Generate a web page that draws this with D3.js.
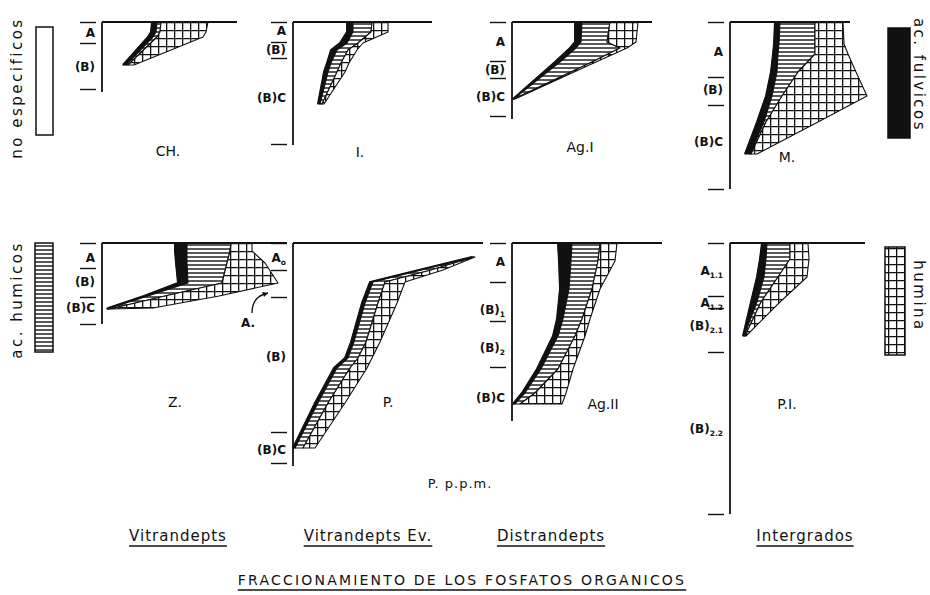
<!DOCTYPE html>
<html>
<head>
<meta charset="utf-8">
<script src="https://cdn.jsdelivr.net/npm/d3@7"></script>
<style>
  body { margin: 0; background: #fff; }
  svg { display: block; }
  text { font-family: "DejaVu Sans", sans-serif; fill: #111; }
</style>
</head>
<body>
<div id="chart"></div>
<script>
// depth (cm) and P ppm of each fraction: no especificos, fulvicos, humicos, humina
const chDepth = [0, 10, 15, 43];
const chNe = [100, 98, 92, 42];
const chFu = [10, 10, 10, 6];
const chHu = [8, 8, 8, 4];
const chHm = [94, 92, 92, 12];

const iDepth = [0, 10, 21, 28, 41, 50, 82];
const iNe = [108, 108, 94, 76, 68, 62, 50];
const iFu = [12, 12, 14, 12, 8, 8, 4];
const iHu = [38, 36, 22, 22, 20, 18, 4];
const iHm = [32, 34, 10, 18, 16, 16, 4];

const ag1Depth = [0, 20, 26, 40, 77];
const ag1Ne = [126, 126, 116, 86, 2];
const ag1Fu = [14, 12, 12, 10, 1];
const ag1Hu = [56, 52, 88, 64, 1];
const ag1Hm = [56, 58, 14, 8, 2];

const mDepth = [0, 22, 32, 50, 74, 100, 132];
const mNe = [90, 88, 86, 82, 72, 54, 30];
const mFu = [10, 10, 10, 12, 12, 14, 10];
const mHu = [70, 72, 74, 42, 20, 4, 2];
const mHm = [56, 58, 66, 116, 170, 104, 12];

const zDepth = [0, 8, 20, 40, 53, 65, 66];
const zNe = [146, 146, 148, 152, 84, 12, 10];
const zFu = [24, 24, 22, 20, 8, 4, 2];
const zHu = [88, 86, 80, 68, 34, 8, 2];
const zHm = [42, 44, 76, 112, 108, 78, 2];

const pDepth = [14, 27, 39, 60, 99, 115, 125, 160, 205];
const pNe = [358, 252, 154, 138, 116, 104, 82, 44, 0];
const pFu = [2, 4, 6, 6, 6, 6, 6, 6, 4];
const pHu = [2, 20, 24, 26, 24, 20, 26, 20, 16];
const pHm = [2, 24, 40, 38, 28, 28, 34, 34, 24];

const ag2Depth = [0, 18, 46, 76, 93, 126, 150, 161];
const ag2Ne = [92, 94, 96, 90, 82, 50, 20, 2];
const ag2Fu = [28, 24, 18, 12, 10, 8, 6, 4];
const ag2Hu = [56, 54, 46, 38, 34, 34, 20, 10];
const ag2Hm = [34, 34, 16, 16, 20, 30, 62, 84];

const piDepth = [0, 16, 34, 59, 93];
const piNe = [64, 60, 54, 42, 26];
const piFu = [10, 12, 14, 12, 2];
const piHu = [46, 48, 28, 8, 2];
const piHm = [36, 38, 58, 38, 2];

// horizon limits (cm) and horizon names with their mid depth
const profileNames = ["CH.", "I.", "Ag.I", "M.", "Z.", "P.", "Ag.II", "P.I."];
const profileDepth = [70, 123, 97, 167, 81, 223, 178, 271];
const profileMaxP = [270, 278, 280, 240, 370, 380, 300, 270];
const horizonLimits = [
    [0, 21, 67], [0, 20, 36, 122], [0, 39, 56, 94], [0, 55, 83, 167],
    [0, 25, 54, 81], [0, 27, 54, 189, 220], [0, 39, 78, 124], [0, 53, 65, 109, 271]
];
const horizonNames = [
    [["A", 11], ["(B)", 45]],
    [["A", 9], ["(B)", 28], ["(B)C", 76]],
    [["A", 20], ["(B)", 48], ["(B)C", 75]],
    [["A", 30], ["(B)", 68], ["(B)C", 120]],
    [["A", 15], ["(B)", 39], ["(B)C", 65]],
    [["A_o", 15], ["(B)", 114], ["(B)C", 207]],
    [["A", 19], ["(B)_1", 67], ["(B)_2", 105], ["(B)C", 155]],
    [["A_1.1", 28], ["A_1.2", 60], ["(B)_2.1", 83], ["(B)_2.2", 186]]
];
const groups = ["Vitrandepts", "Vitrandepts Ev.", "Distrandepts", "Intergrados"];
const fractions = ["ne", "fu", "hu", "hm"];

const profiles = [
    [chDepth, chNe, chFu, chHu, chHm], [iDepth, iNe, iFu, iHu, iHm],
    [ag1Depth, ag1Ne, ag1Fu, ag1Hu, ag1Hm], [mDepth, mNe, mFu, mHu, mHm],
    [zDepth, zNe, zFu, zHu, zHm], [pDepth, pNe, pFu, pHu, pHm],
    [ag2Depth, ag2Ne, ag2Fu, ag2Hu, ag2Hm], [piDepth, piNe, piFu, piHu, piHm]
].map(([dep, ne, fu, hu, hm]) => dep.map((d, i) => ({depth: d, ne: ne[i], fu: fu[i], hu: hu[i], hm: hm[i]})));

// layout
const W = 930, H = 595;
const colX = [102, 293, 512, 730];
const rowY = [22, 243];
const nameX = [168, 360, 580, 787, 175, 388, 603, 787];
const nameY = [156, 157, 152, 162, 407, 407, 409, 409];
const groupX = [178, 368, 551, 805];

const svg = d3.select("#chart").append("svg")
    .attr("width", W).attr("height", H);

const defs = svg.append("defs");
const hatch = defs.append("pattern").attr("id", "hatch")
    .attr("patternUnits", "userSpaceOnUse").attr("width", 8).attr("height", 4);
hatch.append("rect").attr("width", 8).attr("height", 4).attr("fill", "#fff");
hatch.append("line").attr("x1", 0).attr("x2", 8).attr("y1", 2).attr("y2", 2)
    .attr("stroke", "#111").attr("stroke-width", 1.4);
const grid = defs.append("pattern").attr("id", "grid")
    .attr("patternUnits", "userSpaceOnUse").attr("width", 8).attr("height", 8);
grid.append("rect").attr("width", 8).attr("height", 8).attr("fill", "#fff");
grid.append("path").attr("d", "M0 0.6H8M0.6 0V8")
    .attr("stroke", "#111").attr("stroke-width", 1.4).attr("fill", "none");

const fills = {fu: "#111", hu: "url(#hatch)", hm: "url(#grid)"};

const x = d3.scaleLinear().domain([0, 400]).range([0, 200]);
const y = d3.scaleLinear().domain([0, 300]).range([0, 300]);

const stack = d3.stack().keys(fractions);
const area = d3.area()
    .y(d => y(d.data.depth))
    .x0(d => x(d[0]))
    .x1(d => x(d[1]));

function labelText(sel, s) {
    const parts = s.split("_");
    sel.text(parts[0]);
    if (parts[1]) {
        sel.append("tspan").attr("font-size", 7.5).attr("dy", 3).text(parts[1]);
    }
}

profiles.forEach((rows, k) => {
    const g = svg.append("g")
        .attr("transform", `translate(${colX[k % 4]},${rowY[Math.floor(k / 4)]})`);

    const layers = stack(rows);
    layers.filter(l => l.key !== "ne").forEach(l => {
        g.append("path")
            .datum(l)
            .attr("fill", fills[l.key])
            .attr("stroke", "#111")
            .attr("stroke-width", 1.1)
            .attr("stroke-linejoin", "round")
            .attr("d", area);
    });
    // heavy left edge of the fulvic band
    g.append("path")
        .datum(layers[1])
        .attr("fill", "none")
        .attr("stroke", "#111")
        .attr("stroke-width", 2)
        .attr("d", d3.line().x(d => x(d[0])).y(d => y(d.data.depth)));

    // depth axis and top line
    g.append("line")
        .attr("x1", 0).attr("x2", 0).attr("y1", 0).attr("y2", y(profileDepth[k]))
        .attr("stroke", "#111").attr("stroke-width", 1.8);
    g.append("line")
        .attr("x1", 0).attr("x2", x(profileMaxP[k])).attr("y1", 0).attr("y2", 0)
        .attr("stroke", "#111").attr("stroke-width", 2);

    // horizon limits
    const ax = g.append("g")
        .attr("transform", "translate(-6,0)")
        .call(d3.axisLeft(y).tickValues(horizonLimits[k]).tickSize(16).tickFormat(""));
    ax.select(".domain").remove();
    ax.selectAll(".tick line").attr("stroke", "#111").attr("stroke-width", 1.4);

    horizonNames[k].forEach(([name, d]) => {
        g.append("text")
            .attr("x", -7)
            .attr("y", y(d) + 4)
            .attr("text-anchor", "end")
            .attr("font-size", 12)
            .attr("font-weight", "bold")
            .call(labelText, name);
    });

    svg.append("text")
        .attr("x", nameX[k]).attr("y", nameY[k])
        .attr("text-anchor", "middle")
        .attr("font-size", 14)
        .text(profileNames[k]);
});

// arrow to A1 in profile Z
svg.append("path")
    .attr("d", "M252,313 C252,302 258,295 268,293")
    .attr("fill", "none").attr("stroke", "#111").attr("stroke-width", 1.3);
svg.append("path")
    .attr("d", "M268,293 l-6,-1 l2,5 z").attr("fill", "#111");
svg.append("text").attr("x", 248).attr("y", 327)
    .attr("text-anchor", "middle").attr("font-size", 12).attr("font-weight", "bold")
    .text("A.");

svg.append("text")
    .attr("x", 460).attr("y", 488)
    .attr("text-anchor", "middle")
    .attr("font-size", 13)
    .attr("letter-spacing", 1)
    .text("P. p.p.m.");

// legend boxes
const legend = [
    {x: 36, y: 27, w: 17, h: 108, fill: "#fff", label: "no especificos", tx: 22, ty: 88, rot: -90},
    {x: 35, y: 243, w: 18, h: 109, fill: "url(#hatch)", label: "ac. humicos", tx: 22, ty: 300, rot: -90},
    {x: 888, y: 28, w: 22, h: 110, fill: "#111", label: "ac. fulvicos", tx: 914, ty: 75, rot: 90},
    {x: 885, y: 247, w: 20, h: 108, fill: "url(#grid)", label: "humina", tx: 914, ty: 296, rot: 90}
];
legend.forEach(l => {
    svg.append("rect")
        .attr("x", l.x).attr("y", l.y).attr("width", l.w).attr("height", l.h)
        .attr("fill", l.fill).attr("stroke", "#111").attr("stroke-width", 1.5);
    svg.append("text")
        .attr("transform", `translate(${l.tx},${l.ty}) rotate(${l.rot})`)
        .attr("text-anchor", "middle")
        .attr("font-size", 15)
        .attr("letter-spacing", 2.5)
        .text(l.label);
});

// group names and title, underlined
function underlined(tx, ty, s, size, spacing) {
    const t = svg.append("text")
        .attr("x", tx).attr("y", ty)
        .attr("text-anchor", "middle")
        .attr("font-size", size)
        .attr("letter-spacing", spacing)
        .text(s);
    const len = t.node().getComputedTextLength();
    svg.append("line")
        .attr("x1", tx - len / 2).attr("x2", tx + len / 2)
        .attr("y1", ty + 5).attr("y2", ty + 5)
        .attr("stroke", "#111").attr("stroke-width", 1.3);
}
groups.forEach((gname, i) => underlined(groupX[i], 541, gname, 15, 1));
underlined(462, 585, "FRACCIONAMIENTO DE LOS FOSFATOS ORGANICOS", 14, 2.2);
</script>
</body>
</html>
